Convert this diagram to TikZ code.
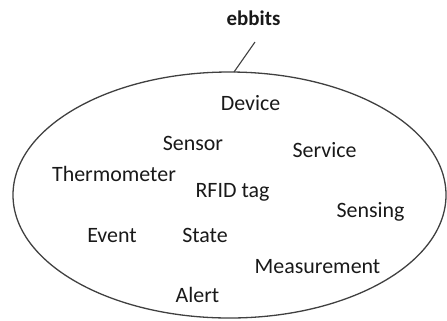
\documentclass[tikz,border=0pt]{standalone}
\usepackage{fontspec}
\setmainfont{Carlito}
\usetikzlibrary{shapes.geometric}
\begin{document}
\begin{tikzpicture}[x=1bp,y=-1bp,
  lbl/.style={anchor=base,inner sep=0pt,font=\fontsize{22}{26}\selectfont,text=black!90},
  outline/.style={draw=black!75,line width=1.3bp}]
\useasboundingbox (0,0) rectangle (447,320);
\node[outline,ellipse,minimum width=433bp,minimum height=246bp,inner sep=0pt] (set) at (229.5,195) {};
\node[lbl,font=\fontsize{21}{25}\selectfont\bfseries] (title) at (253.5,25) {ebbits};
\coordinate (lineTop) at (255,42);
\coordinate (lineBot) at (234,72);
\draw[outline,line width=1.1bp] (lineTop) -- (lineBot);
\node[lbl] (device) at (250.5,110) {Device};
\node[lbl] (sensor) at (193,150) {Sensor};
\node[lbl] (service) at (324.5,157) {Service};
\node[lbl] (thermo) at (114,181) {Thermometer};
\node[lbl] (rfid) at (232.5,197) {RFID tag};
\node[lbl] (sensing) at (370.5,217) {Sensing};
\node[lbl] (event) at (112,242) {Event};
\node[lbl] (state) at (205,242) {State};
\node[lbl] (meas) at (317.5,273) {Measurement};
\node[lbl] (alert) at (197.5,302) {Alert};
\end{tikzpicture}
\end{document}
